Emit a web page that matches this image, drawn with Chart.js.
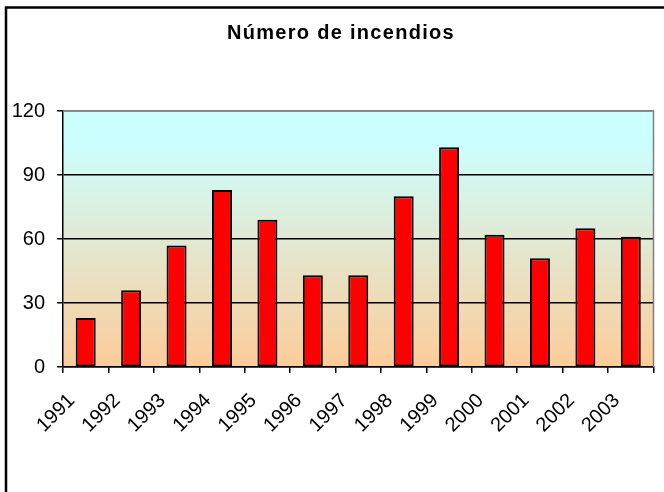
<!DOCTYPE html>
<html>
<head>
<meta charset="utf-8">
<script src="https://cdn.jsdelivr.net/npm/chart.js@4"></script>
<style>
html,body{margin:0;padding:0;background:#fff;}
canvas{display:block;}
</style>
</head>
<body>
<canvas id="c" width="664" height="492"></canvas>
<script>
const categories = ['1991','1992','1993','1994','1995','1996','1997','1998','1999','2000','2001','2002','2003'];
const incendios = [23, 36, 57, 83, 69, 43, 43, 80, 103, 62, 51, 65, 61];
const yTicks = [0, 30, 60, 90, 120];
const titleText = 'Número de incendios';

const frameAndBg = {
  id: 'frameAndBg',
  beforeDraw(chart) {
    const ctx = chart.ctx;
    const a = chart.chartArea;
    ctx.save();
    ctx.fillStyle = '#fff';
    ctx.fillRect(0, 0, chart.width, chart.height);
    ctx.strokeStyle = '#000';
    ctx.lineWidth = 2.5;
    ctx.beginPath();
    ctx.moveTo(6, 492);
    ctx.lineTo(6, 7.5);
    ctx.lineTo(664, 7.5);
    ctx.stroke();
    const g = ctx.createLinearGradient(0, a.top, 0, a.bottom);
    g.addColorStop(0, '#CCFFFF');
    g.addColorStop(0.12, '#CCFFFF');
    g.addColorStop(1, '#FDCC99');
    ctx.fillStyle = g;
    ctx.fillRect(a.left, a.top, a.right - a.left, a.bottom - a.top);
    ctx.fillStyle = '#000';
    ctx.font = 'bold 20px "Liberation Sans", Arial, sans-serif';
    if ('letterSpacing' in ctx) ctx.letterSpacing = '1.3px';
    ctx.textAlign = 'center';
    ctx.textBaseline = 'alphabetic';
    ctx.fillText(titleText, 341, 39);
    ctx.restore();
  },
  afterDatasetsDraw(chart) {
    const ctx = chart.ctx;
    const a = chart.chartArea;
    ctx.save();
    ctx.strokeStyle = '#808080';
    ctx.lineWidth = 1.5;
    ctx.beginPath();
    ctx.moveTo(a.left, a.top);
    ctx.lineTo(a.right, a.top);
    ctx.lineTo(a.right, a.bottom);
    ctx.stroke();
    ctx.restore();
  }
};

new Chart(document.getElementById('c'), {
  type: 'bar',
  data: {
    labels: categories,
    datasets: [{
      data: incendios,
      backgroundColor: '#FF0000',
      borderColor: '#000',
      borderWidth: 2,
      borderSkipped: false,
      categoryPercentage: 1,
      barPercentage: 0.44
    }]
  },
  options: {
    responsive: false,
    animation: false,
    devicePixelRatio: 1,
    layout: { padding: { left: 0, right: 6, top: 111, bottom: 0 } },
    plugins: {
      legend: { display: false },
      tooltip: { enabled: false },
      title: { display: false }
    },
    scales: {
      x: {
        grid: {
          offset: true,
          drawOnChartArea: false,
          color: '#000',
          lineWidth: 1.5,
          tickLength: 6
        },
        border: { color: '#000', width: 1.5 },
        ticks: {
          color: '#000',
          font: { family: 'Liberation Sans, Arial, sans-serif', size: 20 },
          maxRotation: 45,
          minRotation: 45,
          autoSkip: false,
          labelOffset: -14,
          padding: 16
        },
        afterFit(scale) { scale.height = 125; }
      },
      y: {
        min: 0,
        max: 120,
        afterBuildTicks(scale) { scale.ticks = yTicks.map(v => ({ value: v })); },
        grid: {
          color: ctx => (ctx.tick && ctx.tick.value === 120) ? '#808080' : '#000',
          lineWidth: 1.5,
          tickLength: 6,
          tickColor: '#000'
        },
        border: { color: '#000', width: 1.5 },
        ticks: {
          color: '#000',
          font: { family: 'Liberation Sans, Arial, sans-serif', size: 20 },
          padding: 12
        },
        afterFit(scale) { scale.width = 63; }
      }
    }
  },
  plugins: [frameAndBg]
});
</script>
</body>
</html>
